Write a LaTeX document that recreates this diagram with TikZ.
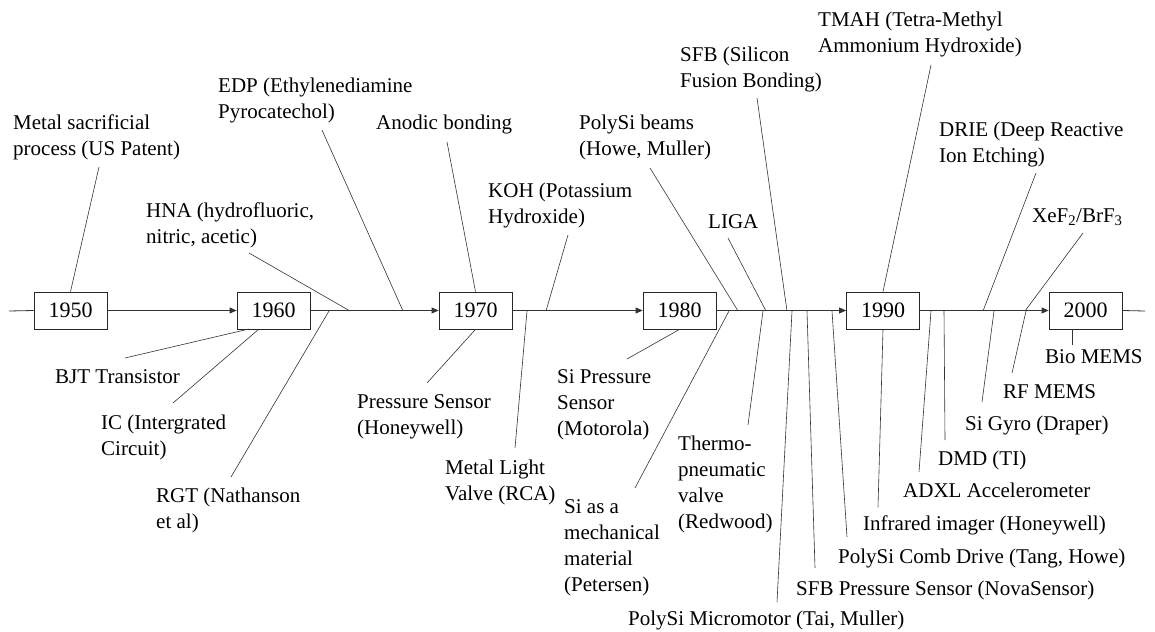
\documentclass[tikz,border=0pt]{standalone}
\usepackage{fontspec}
\setmainfont{Liberation Serif}
\usetikzlibrary{arrows.meta,calc}
\begin{document}
\begin{tikzpicture}[x=1pt,y=-1pt,
  yearbox/.style={draw=black!85, line width=0.8pt, minimum width=73pt,
    minimum height=37pt, inner sep=0pt, font=\fontsize{22}{26}\selectfont},
  % labels are placed by the baseline of their last line
  lbl/.style={anchor=base west, inner sep=0pt, align=left,
    font=\fontsize{21}{26}\selectfont},
  lead/.style={draw=black!80, line width=0.6pt},
  axis/.style={draw=black!80, line width=0.8pt},
  adv/.style={axis, -{Triangle[length=7pt,width=6pt]}}]
\useasboundingbox (0,0) rectangle (1155,631);

% decade boxes
\node[yearbox] (y1950) at (70.5,310.5) {1950};
\node[yearbox] (y1960) at (273.5,310.5) {1960};
\node[yearbox] (y1970) at (475.5,310.5) {1970};
\node[yearbox] (y1980) at (679.5,310.5) {1980};
\node[yearbox] (y1990) at (883,310.5) {1990};
\node[yearbox] (y2000) at (1085.5,310.5) {2000};

% time axis
\coordinate (tStart) at (9,311);
\coordinate (tEnd) at (1145,311);
\draw[axis] (tStart) -- (y1950.west);
\draw[adv] (y1950.east) -- (y1960.west);
\draw[adv] (y1960.east) -- (y1970.west);
\draw[adv] (y1970.east) -- (y1980.west);
\draw[adv] (y1980.east) -- (y1990.west);
\draw[adv] (y1990.east) -- (y2000.west);
\draw[axis] (y2000.east) -- (tEnd);

% events above the axis
\node[lbl] (metal) at (13,156) {Metal sacrificial\\process (US Patent)};
\coordinate (aMetal) at (99,167);
\draw[lead] (aMetal) -- (y1950.north);

\node[lbl] (hna) at (146,243) {HNA (hydrofluoric,\\nitric, acetic)};
\coordinate (aHna) at (249,253); \coordinate (tHna) at (350,311);
\draw[lead] (aHna) -- (tHna);

\node[lbl] (edp) at (218,119) {EDP (Ethylenediamine\\Pyrocatechol)};
\coordinate (aEdp) at (322,130); \coordinate (tEdp) at (403,311);
\draw[lead] (aEdp) -- (tEdp);

\node[lbl] (anodic) at (376,130) {Anodic bonding};
\coordinate (aAnodic) at (447,142);
\draw[lead] (aAnodic) -- (y1970.north);

\node[lbl] (koh) at (488,223) {KOH (Potassium\\Hydroxide)};
\coordinate (aKoh) at (568,235); \coordinate (tKoh) at (546,311);
\draw[lead] (aKoh) -- (tKoh);

\node[lbl] (beams) at (579,156) {PolySi beams\\(Howe, Muller)};
\coordinate (aBeams) at (650,168); \coordinate (tBeams) at (738,311);
\draw[lead] (aBeams) -- (tBeams);

\node[lbl] (liga) at (708,228) {LIGA};
\coordinate (aLiga) at (728,238); \coordinate (tLiga) at (766,311);
\draw[lead] (aLiga) -- (tLiga);

\node[lbl] (sfb) at (680,88) {SFB (Silicon\\Fusion Bonding)};
\coordinate (aSfb) at (757,98); \coordinate (tSfb) at (787,311);
\draw[lead] (aSfb) -- (tSfb);

\node[lbl] (tmah) at (818,53) {TMAH (Tetra-Methyl\\Ammonium Hydroxide)};
\coordinate (aTmah) at (931,65);
\draw[lead] (aTmah) -- (y1990.north);

\node[lbl] (drie) at (939,163) {DRIE (Deep Reactive\\Ion Etching)};
\coordinate (aDrie) at (1036,173); \coordinate (tDrie) at (983,311);
\draw[lead] (aDrie) -- (tDrie);

\node[lbl] (xef) at (1032,222) {XeF\textsubscript{2}/BrF\textsubscript{3}};
\coordinate (aXef) at (1083,233); \coordinate (tXef) at (1025,311);
\draw[lead] (aXef) -- (tXef);

% events below the axis
\node[lbl] (bjt) at (55,383) {BJT Transistor};
\coordinate (bBjt) at (125,358); \coordinate (tBjt) at (249,329);
\draw[lead] (tBjt) -- (bBjt);

\node[lbl] (ic) at (101,455) {IC (Intergrated\\Circuit)};
\coordinate (bIc) at (173,403); \coordinate (tIc) at (259,329);
\draw[lead] (tIc) -- (bIc);

\node[lbl] (rgt) at (156,528) {RGT (Nathanson\\et al)};
\coordinate (bRgt) at (231,477); \coordinate (tRgt) at (329,311);
\draw[lead] (tRgt) -- (bRgt);

\node[lbl] (psens) at (357,434) {Pressure Sensor\\(Honeywell)};
\coordinate (bPsens) at (427,383);
\draw[lead] (y1970.south) -- (bPsens);

\node[lbl] (valve) at (445,500) {Metal Light\\Valve (RCA)};
\coordinate (bValve) at (515,448); \coordinate (tValve) at (527,311);
\draw[lead] (tValve) -- (bValve);

\node[lbl] (sips) at (557,435) {Si Pressure\\Sensor\\(Motorola)};
\coordinate (bSips) at (627,359);
\draw[lead] (y1980.south) -- (bSips);

\node[lbl] (simech) at (564,591) {Si as a\\mechanical\\material\\(Petersen)};
\coordinate (bSimech) at (635,488); \coordinate (tSimech) at (729,311);
\draw[lead] (tSimech) -- (bSimech);

\node[lbl] (thermo) at (678,528) {Thermo-\\pneumatic\\valve\\(Redwood)};
\coordinate (bThermo) at (748,425); \coordinate (tThermo) at (763,311);
\draw[lead] (tThermo) -- (bThermo);

\node[lbl] (motor) at (628,625) {PolySi Micromotor (Tai, Muller)};
\coordinate (bMotor) at (777,602); \coordinate (tMotor) at (792,311);
\draw[lead] (tMotor) -- (bMotor);

\node[lbl] (sfbps) at (796,595) {SFB Pressure Sensor (NovaSensor)};
\coordinate (bSfbps) at (815,568); \coordinate (tSfbps) at (807,311);
\draw[lead] (tSfbps) -- (bSfbps);

\node[lbl] (comb) at (838,563) {PolySi Comb Drive (Tang, Howe)};
\coordinate (bComb) at (847,537); \coordinate (tComb) at (832,311);
\draw[lead] (tComb) -- (bComb);

\node[lbl] (ir) at (863,530) {Infrared imager (Honeywell)};
\coordinate (bIr) at (878,507);
\draw[lead] (y1990.south) -- (bIr);

\node[lbl] (adxl) at (903,497) {ADXL Accelerometer};
\coordinate (bAdxl) at (919,472); \coordinate (tAdxl) at (931,311);
\draw[lead] (tAdxl) -- (bAdxl);

\node[lbl] (dmd) at (938,465) {DMD (TI)};
\coordinate (bDmd) at (945,440); \coordinate (tDmd) at (944,311);
\draw[lead] (tDmd) -- (bDmd);

\node[lbl] (gyro) at (965,430) {Si Gyro (Draper)};
\coordinate (bGyro) at (982,402); \coordinate (tGyro) at (994,311);
\draw[lead] (tGyro) -- (bGyro);

\node[lbl] (rf) at (1003,398) {RF MEMS};
\coordinate (bRf) at (1012,373); \coordinate (tRf) at (1026,311);
\draw[lead] (tRf) -- (bRf);

\node[lbl] (bio) at (1045,363) {Bio MEMS};
\coordinate (bBio) at (1072,345);
\draw[lead] ($(y2000.south)+(-13.5,0)$) -- (bBio);
\end{tikzpicture}
\end{document}
